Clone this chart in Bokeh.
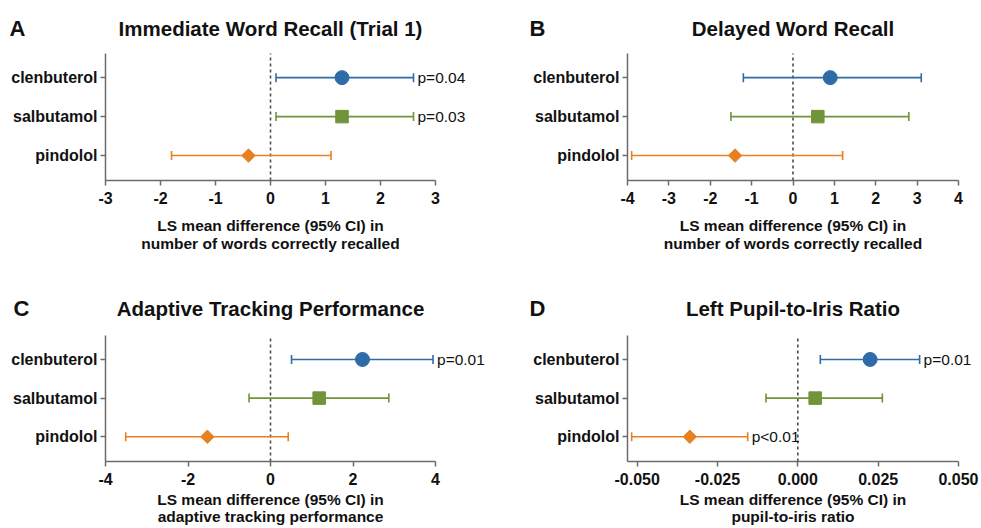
import math
from bokeh.plotting import figure
from bokeh.models import (Range1d, FixedTicker, PrintfTickFormatter, Label,
                          ColumnDataSource, LinearAxis)
from bokeh.layouts import column, row
from bokeh.embed import file_html
from bokeh.resources import INLINE

# ---------------- data ----------------
drugs = ["clenbuterol", "salbutamol", "pindolol"]
y_pos = [3, 2, 1]
colors = ["#2f6ba9", "#719339", "#e8801f"]
markers = ["circle", "square", "square"]
marker_angles = [0.0, 0.0, math.pi / 4]
marker_sizes = [14, 12.5, 9.5]

A_mean = [1.3, 1.3, -0.4]
A_lo = [0.1, 0.1, -1.8]
A_hi = [2.6, 2.6, 1.1]
A_p = ["p=0.04", "p=0.03", ""]

B_mean = [0.9, 0.6, -1.4]
B_lo = [-1.2, -1.5, -3.9]
B_hi = [3.1, 2.8, 1.2]
B_p = ["", "", ""]

C_mean = [2.23, 1.18, -1.53]
C_lo = [0.51, -0.52, -3.51]
C_hi = [3.94, 2.87, 0.43]
C_p = ["p=0.01", "", ""]

D_mean = [0.0225, 0.0054, -0.0336]
D_lo = [0.0070, -0.0099, -0.0517]
D_hi = [0.0379, 0.0263, -0.0156]
D_p = ["p=0.01", "", "p<0.01"]

A_ticks = [-3, -2, -1, 0, 1, 2, 3]
B_ticks = [-4, -3, -2, -1, 0, 1, 2, 3, 4]
C_ticks = [-4, -2, 0, 2, 4]
D_ticks = [-0.05, -0.025, 0.0, 0.025, 0.05]

xlabel_words = ["LS mean difference (95% CI) in", "number of words correctly recalled"]
xlabel_track = ["LS mean difference (95% CI) in", "adaptive tracking performance"]
xlabel_pupil = ["LS mean difference (95% CI) in", "pupil-to-iris ratio"]

# ---------------- style / layout ----------------
FONT = "Liberation Sans"
AXIS_COLOR = "#6b6b6b"
TEXT_COLOR = "#111111"
Y_RANGE = (0.36, 3.62)

# per column: canvas width, axes-box left, axes-box width
COLS = {0: (490, 105, 330), 1: (491, 137, 331)}
# per row: canvas height, axes-box top, axes-box height, title baseline, caption baselines
ROWS = {0: (265, 53, 127, 28, (225, 243)), 1: (263, 70, 126, 43, (234, 251))}
LETTER_X = {(0, 0): 9, (1, 0): 39, (0, 1): 13, (1, 1): 39}


def make_panel(letter, title, mean, lo, hi, pvals, xr, ticks, fmt, xlabel, col, rowi):
    W, left, aw = COLS[col]
    H, top, ah, tb, lb = ROWS[rowi]
    sx = (xr[1] - xr[0]) / aw
    sy = (Y_RANGE[1] - Y_RANGE[0]) / ah
    x_full = (xr[0] - left * sx, xr[1] + (W - left - aw) * sx)
    y_full = (Y_RANGE[0] - (H - top - ah) * sy, Y_RANGE[1] + top * sy)

    p = figure(frame_width=W, frame_height=H, min_border=0,
               x_range=Range1d(*x_full), y_range=Range1d(*y_full),
               x_axis_location=None, y_axis_location=None,
               output_backend="svg", toolbar_location=None, tools="",
               title=None)
    p.xgrid.visible = False
    p.ygrid.visible = False
    p.outline_line_color = None
    p.background_fill_color = "white"
    p.border_fill_color = "white"

    def dx(fx):
        return x_full[0] + fx * sx

    def dy(fy):
        return y_full[1] - fy * sy

    xaxis = LinearAxis(fixed_location=Y_RANGE[0], bounds=xr,
                       ticker=FixedTicker(ticks=ticks),
                       formatter=PrintfTickFormatter(format=fmt),
                       major_label_standoff=6)
    yaxis = LinearAxis(fixed_location=xr[0], bounds=Y_RANGE,
                       ticker=FixedTicker(ticks=y_pos),
                       major_label_overrides={y: d for y, d in zip(y_pos, drugs)},
                       major_label_standoff=3)
    for ax in (xaxis, yaxis):
        ax.axis_line_color = AXIS_COLOR
        ax.axis_line_width = 1.5
        ax.major_tick_line_color = AXIS_COLOR
        ax.major_tick_line_width = 1.5
        ax.major_tick_out = 5
        ax.major_tick_in = 0
        ax.minor_tick_out = 0
        ax.minor_tick_in = 0
        ax.major_label_text_font = FONT
        ax.major_label_text_font_style = "bold"
        ax.major_label_text_font_size = "16px"
        ax.major_label_text_color = TEXT_COLOR
    p.add_layout(xaxis, "below")
    p.add_layout(yaxis, "left")

    # zero reference line across the axes box
    p.segment(x0=[0], y0=[Y_RANGE[0]], x1=[0], y1=[Y_RANGE[1]], line_color="#4d4d4d",
              line_dash="3 3", line_width=1.6)

    src = ColumnDataSource(dict(y=y_pos, mean=mean, lo=lo, hi=hi, color=colors,
                                marker=markers, angle=marker_angles, size=marker_sizes))
    p.segment(x0="lo", y0="y", x1="hi", y1="y", line_color="color", line_width=1.6, source=src)
    for end in ("lo", "hi"):
        p.scatter(x=end, y="y", marker="dash", angle=math.pi / 2, size=9,
                  line_color="color", line_width=1.6, source=src)
    p.scatter(x="mean", y="y", marker="marker", angle="angle", size="size",
              fill_color="color", line_color="color", line_width=1, source=src)

    # p-values
    for yv, h, t in zip(y_pos, hi, pvals):
        if t:
            p.add_layout(Label(x=h, y=yv, x_offset=4, text=t, text_align="left",
                               text_baseline="middle", text_font=FONT,
                               text_font_size="15.5px", text_color=TEXT_COLOR))

    # title and panel letter
    p.add_layout(Label(x=dx(left + aw / 2), y=dy(tb), text=title, text_align="center",
                       text_baseline="alphabetic", text_font=FONT, text_font_style="bold",
                       text_font_size="20.5px", text_color=TEXT_COLOR))
    p.add_layout(Label(x=dx(LETTER_X[(col, rowi)]), y=dy(tb), text=letter, text_align="left",
                       text_baseline="alphabetic", text_font=FONT, text_font_style="bold",
                       text_font_size="22px", text_color=TEXT_COLOR))

    # x-axis caption (two lines)
    for line, b in zip(xlabel, lb):
        p.add_layout(Label(x=dx(left + aw / 2), y=dy(b), text=line, text_align="center",
                           text_baseline="alphabetic", text_font=FONT, text_font_style="bold",
                           text_font_size="15.5px", text_color=TEXT_COLOR))
    return p


pA = make_panel("A", "Immediate Word Recall (Trial 1)", A_mean, A_lo, A_hi, A_p,
                (-3, 3), A_ticks, "%d", xlabel_words, 0, 0)
pB = make_panel("B", "Delayed Word Recall", B_mean, B_lo, B_hi, B_p,
                (-4, 4), B_ticks, "%d", xlabel_words, 1, 0)
pC = make_panel("C", "Adaptive Tracking Performance", C_mean, C_lo, C_hi, C_p,
                (-4, 4), C_ticks, "%d", xlabel_track, 0, 1)
pD = make_panel("D", "Left Pupil-to-Iris Ratio", D_mean, D_lo, D_hi, D_p,
                (-0.053, 0.05), D_ticks, "%.3f", xlabel_pupil, 1, 1)

layout = column(row(pA, pB), row(pC, pD))
open("out.html", "w").write(file_html(layout, INLINE))
